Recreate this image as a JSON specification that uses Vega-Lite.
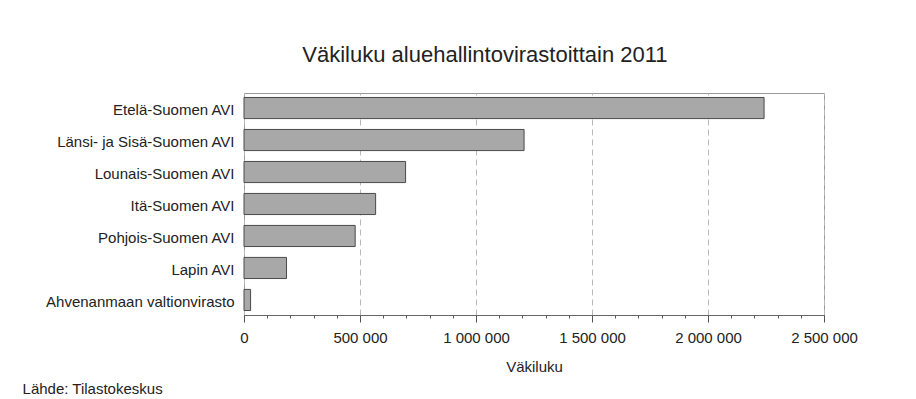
{
  "$schema": "https://vega.github.io/schema/vega-lite/v6.json",
  "padding": {"left": 22, "top": 43, "right": 10, "bottom": 2},
  "background": "white",
  "config": {
    "locale": {"number": {"decimal": ",", "thousands": " ", "grouping": [3], "currency": ["", " €"]}},
    "font": "Liberation Sans",
    "view": {"stroke": "#9a9a9a", "strokeWidth": 1}
  },
  "title": {
    "text": "Väkiluku aluehallintovirastoittain 2011",
    "font": "Liberation Sans",
    "fontSize": 22,
    "fontWeight": "normal",
    "color": "#222222",
    "anchor": "middle",
    "offset": 26,
    "dx": 45
  },
  "vconcat": [
    {
      "width": 580,
      "height": 222,
      "title": {
        "text": "Lähde: Tilastokeskus",
        "orient": "bottom",
        "anchor": "start",
        "frame": "bounds",
        "dx": -23,
        "offset": 8,
        "font": "Liberation Sans",
        "fontSize": 15,
        "fontWeight": "normal",
        "color": "#222222"
      },
      "data": {
        "values": [
          {"AVI": "Etelä-Suomen AVI", "Väkiluku": 2241700},
          {"AVI": "Länsi- ja Sisä-Suomen AVI", "Väkiluku": 1207200},
          {"AVI": "Lounais-Suomen AVI", "Väkiluku": 696400},
          {"AVI": "Itä-Suomen AVI", "Väkiluku": 567300},
          {"AVI": "Pohjois-Suomen AVI", "Väkiluku": 479200},
          {"AVI": "Lapin AVI", "Väkiluku": 183300},
          {"AVI": "Ahvenanmaan valtionvirasto", "Väkiluku": 28400}
        ]
      },
      "layer": [
        {
          "mark": {"type": "bar", "opacity": 0},
          "encoding": {
            "y": {
              "field": "AVI",
              "type": "nominal",
              "sort": null,
              "scale": {"paddingInner": 0.34, "paddingOuter": 0.14},
              "axis": {
                "title": null,
                "ticks": false,
                "domain": false,
                "labelPadding": 10,
                "labelFontSize": 15,
                "labelColor": "#222222",
                "labelFont": "Liberation Sans",
                "labelOffset": 2,
                "labelLimit": 300
              }
            },
            "x": {
              "field": "Väkiluku",
              "type": "quantitative",
              "scale": {"domain": [0, 2500000], "nice": false},
              "axis": {
                "orient": "bottom",
                "values": [0, 100000, 200000, 300000, 400000, 500000, 600000, 700000, 800000, 900000, 1000000, 1100000, 1200000, 1300000, 1400000, 1500000, 1600000, 1700000, 1800000, 1900000, 2000000, 2100000, 2200000, 2300000, 2400000, 2500000],
                "labels": false,
                "grid": false,
                "domain": false,
                "tickSize": 3,
                "tickColor": "#555555",
                "title": null
              }
            }
          }
        },
        {
          "mark": {"type": "bar", "fill": "#a8a8a8", "stroke": "#4a4a4a", "strokeWidth": 1},
          "encoding": {
            "y": {
              "field": "AVI",
              "type": "nominal",
              "sort": null
            },
            "x": {
              "field": "Väkiluku",
              "type": "quantitative",
              "axis": {
                "orient": "bottom",
                "values": [0, 500000, 1000000, 1500000, 2000000, 2500000],
                "format": ",d",
                "labelFlush": false,
                "grid": true,
                "gridDash": [6, 4],
                "gridColor": "#b8b8b8",
                "domainColor": "#666666",
                "tickColor": "#555555",
                "tickSize": 7,
                "labelPadding": 8,
                "labelFontSize": 15,
                "labelColor": "#222222",
                "labelFont": "Liberation Sans",
                "title": "Väkiluku",
                "titleFontSize": 15,
                "titleFontWeight": "normal",
                "titleColor": "#222222",
                "titleFont": "Liberation Sans",
                "titlePadding": 14
              }
            }
          }
        }
      ],
      "resolve": {"axis": {"x": "independent"}}
    }
  ]
}
